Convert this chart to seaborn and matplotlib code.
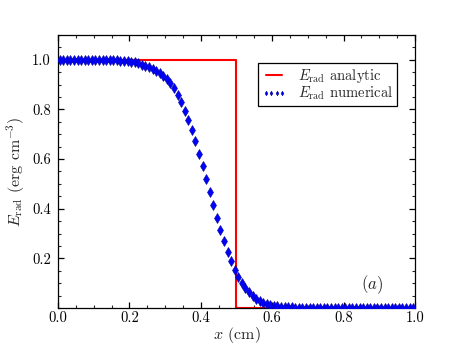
import numpy as np
import pandas as pd
import matplotlib
matplotlib.use("Agg")
import matplotlib.pyplot as plt
import seaborn as sns
from matplotlib.ticker import MultipleLocator

# ---- data ----
x_analytic = [0.0, 0.5, 0.5, 1.0]
e_analytic = [1.0, 1.0, 0.0, 0.0]

x_numerical = [0.005 + 0.01 * k for k in range(100)]
e_numerical = [
    1.000, 1.000, 1.000, 1.000, 1.000, 1.000, 1.000, 1.000, 1.000, 1.000,
    1.000, 1.000, 1.000, 0.999, 0.999, 0.998, 0.997, 0.996, 0.995, 0.993,
    0.992, 0.989, 0.985, 0.980, 0.976, 0.971, 0.964, 0.956, 0.947, 0.936,
    0.922, 0.906, 0.884, 0.859, 0.828, 0.795, 0.757, 0.715, 0.672, 0.621,
    0.571, 0.520, 0.466, 0.415, 0.363, 0.313, 0.269, 0.226, 0.190, 0.155,
    0.126, 0.102, 0.082, 0.064, 0.049, 0.037, 0.028, 0.021, 0.016, 0.012,
    0.009, 0.007, 0.005, 0.004, 0.003, 0.003, 0.002, 0.002, 0.002, 0.001,
    0.001, 0.001, 0.001, 0.001, 0.000, 0.000, 0.000, 0.000, 0.000, 0.000,
    0.000, 0.000, 0.000, 0.000, 0.000, 0.000, 0.000, 0.000, 0.000, 0.000,
    0.000, 0.000, 0.000, 0.000, 0.000, 0.000, 0.000, 0.000, 0.000, 0.000,
]

label_analytic = r"$E_{\rm rad}$ analytic"
label_numerical = r"$E_{\rm rad}$ numerical"

df_a = pd.DataFrame({"x": x_analytic, "E": e_analytic})
df_n = pd.DataFrame({"x": x_numerical, "E": e_numerical})

# ---- style ----
sns.set_theme(style="ticks")
plt.rcParams.update({
    "font.family": "serif",
    "font.serif": ["cmr10", "DejaVu Serif"],
    "mathtext.fontset": "cm",
    "axes.formatter.use_mathtext": True,
    "axes.unicode_minus": False,
    "axes.edgecolor": "black",
    "axes.linewidth": 0.9,
    "xtick.direction": "in",
    "ytick.direction": "in",
    "xtick.top": True,
    "ytick.right": True,
    "xtick.minor.visible": True,
    "ytick.minor.visible": True,
})

fig = plt.figure(figsize=(4.6, 3.45), dpi=100)
ax = fig.add_axes([0.126, 0.107, 0.776, 0.792])

sns.lineplot(data=df_a, x="x", y="E", sort=False, estimator=None, ax=ax,
             color="red", linewidth=1.5, label=label_analytic, zorder=2)
sns.lineplot(data=df_n, x="x", y="E", sort=False, estimator=None, ax=ax,
             color="#0000ff", linestyle="", marker="d", markersize=4.6,
             markeredgewidth=0.4, markeredgecolor="#000099",
             label=label_numerical, zorder=3)

ax.set_xlim(0.0, 1.0)
ax.set_ylim(0.0, 1.1)
ax.xaxis.set_major_locator(MultipleLocator(0.2))
ax.xaxis.set_minor_locator(MultipleLocator(0.05))
ax.set_yticks([0.2, 0.4, 0.6, 0.8, 1.0])
ax.yaxis.set_minor_locator(MultipleLocator(0.05))
ax.xaxis.set_major_formatter(matplotlib.ticker.FormatStrFormatter("%.1f"))
ax.yaxis.set_major_formatter(matplotlib.ticker.FormatStrFormatter("%.1f"))
ax.tick_params(which="major", length=4, width=0.9, labelsize=10.5, colors="black")
ax.tick_params(axis="x", which="major", pad=2.5)
ax.tick_params(axis="y", which="major", pad=5)
ax.tick_params(which="minor", length=2.5, width=0.8)

ax.set_xlabel(r"$x$ (cm)", fontsize=11.5, labelpad=0)
ax.set_ylabel(r"$E_{\rm rad}$ (erg cm$^{-3}$)", fontsize=11.5, labelpad=4)

ax.text(0.879, 0.084, r"$(a)$", transform=ax.transAxes, fontsize=12,
        ha="center", va="center")

leg = ax.legend(loc="upper right", bbox_to_anchor=(0.950, 0.897),
                borderaxespad=0, numpoints=4, fontsize=10.5, frameon=True,
                fancybox=False, framealpha=1, edgecolor="black",
                borderpad=0.25, handlelength=1.7, handletextpad=0.8,
                labelspacing=0.0)
leg.get_frame().set_linewidth(0.9)
for h in leg.legend_handles:
    if h.get_marker() not in (None, "None", ""):
        h.set_markersize(2.3)

for s in ax.spines.values():
    s.set_visible(True)

fig.savefig("out.png", dpi=100)
